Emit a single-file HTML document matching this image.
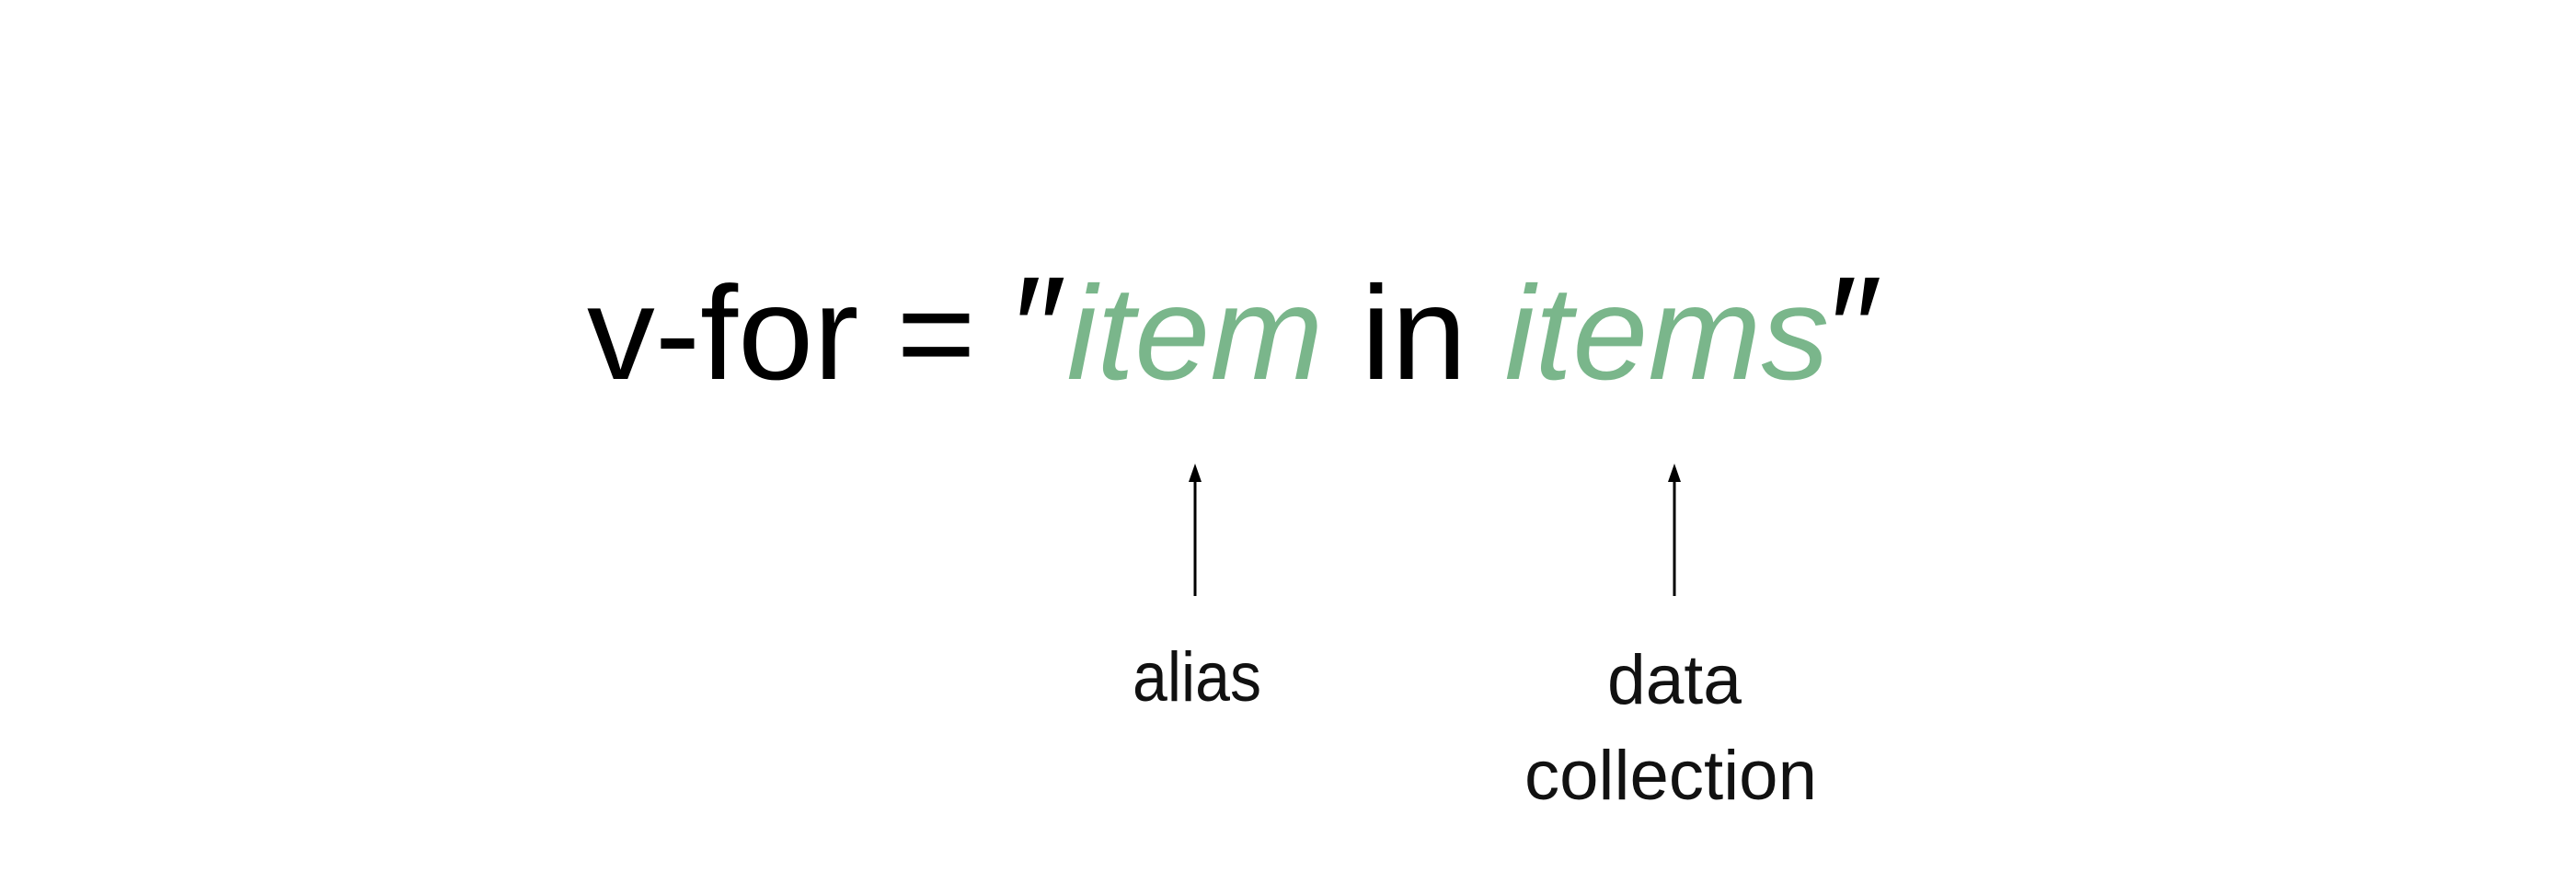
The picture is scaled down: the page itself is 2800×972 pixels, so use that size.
<!DOCTYPE html>
<html><head><meta charset="utf-8"><style>
html,body{margin:0;padding:0;background:#fff;}
svg{display:block;}
</style></head><body>
<svg width="2800" height="972" viewBox="0 0 2800 972" xmlns="http://www.w3.org/2000/svg">
<rect width="2800" height="972" fill="#fff"/>
<text x="638" y="412" font-family="Liberation Sans, sans-serif" font-size="145" fill="#000" textLength="1408" lengthAdjust="spacingAndGlyphs">v-for = <tspan font-size="160">″</tspan><tspan fill="#7ab68b" font-style="italic">item</tspan> in <tspan fill="#7ab68b" font-style="italic">items</tspan><tspan font-size="160">″</tspan></text>
<g stroke="#000" stroke-width="3">
<line x1="1299" y1="520" x2="1299" y2="648"/>
<line x1="1820" y1="520" x2="1820" y2="648"/>
</g>
<polygon points="1299,504 1292,524 1306,524" fill="#000"/>
<polygon points="1820,504 1813,524 1827,524" fill="#000"/>
<g font-family="Liberation Sans, sans-serif" font-size="76" fill="#111" text-anchor="middle">
<text x="1301" y="762" textLength="140" lengthAdjust="spacingAndGlyphs">alias</text>
<text x="1820" y="765" textLength="146" lengthAdjust="spacingAndGlyphs">data</text>
<text x="1816" y="869" textLength="318" lengthAdjust="spacingAndGlyphs">collection</text>
</g>
</svg>
</body></html>
